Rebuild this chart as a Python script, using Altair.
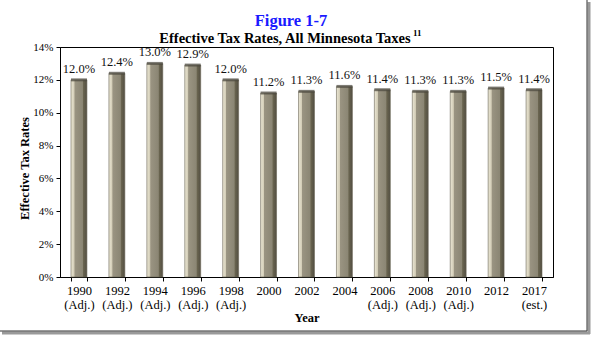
import altair as alt
import pandas as pd

years = ["1990|(Adj.)", "1992|(Adj.)", "1994|(Adj.)", "1996|(Adj.)", "1998|(Adj.)",
         "2000", "2002", "2004", "2006|(Adj.)", "2008|(Adj.)", "2010|(Adj.)",
         "2012", "2017|(est.)"]
rates = [12.0, 12.4, 13.0, 12.9, 12.0, 11.2, 11.3, 11.6, 11.4, 11.3, 11.3, 11.5, 11.4]
y_ticks = [0, 2, 4, 6, 8, 10, 12, 14]

FONT = "Liberation Serif"
W, H = 493, 230

df = pd.DataFrame({"year": years, "rate": rates})
one = pd.DataFrame({"a": [0]})

xenc = alt.X("year:N", sort=years,
             scale=alt.Scale(paddingInner=0.58, paddingOuter=0.29),
             axis=alt.Axis(title="Year", labelExpr="split(datum.label, '|')",
                           labelAngle=0, tickBand="extent", tickSize=4,
                           labelPadding=3, titlePadding=1,
                           labelFontSize=12.5, titleFontSize=12.5,
                           labelLineHeight=14, labelOverlap=False))
yenc = alt.Y("rate:Q", scale=alt.Scale(domain=[0, 14], nice=False),
             axis=alt.Axis(title="Effective Tax Rates", values=y_ticks,
                           labelExpr="datum.value + '%'", tickSize=4,
                           labelPadding=3, titlePadding=1, labelOverlap=False,
                           titleY=121,
                           labelFontSize=11, titleFontSize=12.5, grid=False))

base = alt.Chart(df)

grad = alt.Gradient(
    gradient="linear", x1=0, x2=1, y1=0, y2=0,
    stops=[alt.GradientStop(offset=0, color="#ebe7d5"),
           alt.GradientStop(offset=0.2, color="#d2ccb6"),
           alt.GradientStop(offset=0.24, color="#9a9482"),
           alt.GradientStop(offset=0.72, color="#8b8674"),
           alt.GradientStop(offset=0.78, color="#69644f"),
           alt.GradientStop(offset=1, color="#524e42")])

bars = base.mark_bar(color=grad, stroke="#6a6555", strokeWidth=0.6).encode(x=xenc, y=yenc)
caps = base.mark_tick(color="#4b483e", thickness=3, size=16, orient="horizontal").encode(
    x=xenc, y=yenc)

labels = base.transform_calculate(
    lab="format(datum.rate, '.1f') + '%'"
).mark_text(font=FONT, fontSize=12.5, dy=-7, baseline="alphabetic", color="#111").encode(
    x=xenc, y=yenc, text="lab:N")

t1 = alt.Chart(one).mark_text(font=FONT, fontSize=16.5, fontWeight="bold", color="#1a1aff",
                              baseline="middle", align="center").encode(
    x=alt.value(231), y=alt.value(-26), text=alt.value("Figure 1-7"))
t2 = alt.Chart(one).mark_text(font=FONT, fontSize=14.5, fontWeight="bold", color="#000",
                              baseline="middle", align="center").encode(
    x=alt.value(225), y=alt.value(-8), text=alt.value("Effective Tax Rates, All Minnesota Taxes"))
t3 = alt.Chart(one).mark_text(font=FONT, fontSize=9, fontWeight="bold", color="#000",
                              baseline="middle", align="left").encode(
    x=alt.value(353), y=alt.value(-14), text=alt.value("11"))

fr_r_sh = alt.Chart(one).mark_rule(color="#9a9a9a", strokeWidth=3).encode(
    x=alt.value(529), y=alt.value(-45), y2=alt.value(287))
fr_b_sh = alt.Chart(one).mark_rule(color="#9a9a9a", strokeWidth=3).encode(
    x=alt.value(-58), x2=alt.value(530), y=alt.value(286))
fr_r = alt.Chart(one).mark_rule(color="#333", strokeWidth=1).encode(
    x=alt.value(527), y=alt.value(-47), y2=alt.value(284))
fr_b = alt.Chart(one).mark_rule(color="#333", strokeWidth=1).encode(
    x=alt.value(-60), x2=alt.value(527), y=alt.value(284))

chart = alt.layer(bars, caps, labels, t1, t2, t3, fr_r_sh, fr_b_sh, fr_r, fr_b).properties(
    width=W, height=H,
    autosize=alt.AutoSizeParams(type="none"),
    padding={"left": 60, "top": 47, "right": 40, "bottom": 61},
    background="white",
).configure_view(stroke="#000", strokeWidth=1).configure_axis(
    labelFont=FONT, titleFont=FONT, labelColor="#000", titleColor="#000",
    domainColor="#000", tickColor="#000", titleFontWeight="bold"
)

chart.save("out.html", embed_options={"renderer": "svg", "actions": False})
